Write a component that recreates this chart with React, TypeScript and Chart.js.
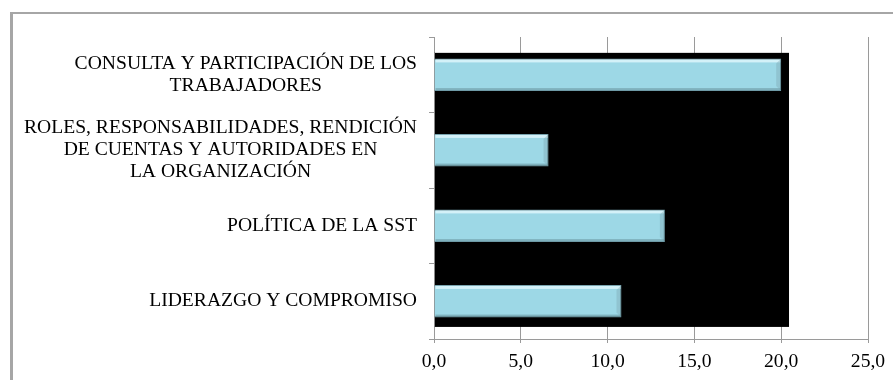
import { useEffect, useRef } from 'react';
import { Chart, registerables } from 'chart.js';

Chart.register(...registerables);

const CATEGORIES: string[][] = [
  ['CONSULTA Y PARTICIPACIÓN DE LOS', 'TRABAJADORES'],
  ['ROLES, RESPONSABILIDADES, RENDICIÓN', 'DE CUENTAS Y AUTORIDADES EN', 'LA ORGANIZACIÓN'],
  ['POLÍTICA DE LA SST'],
  ['LIDERAZGO Y COMPROMISO'],
];
const VALUES: number[] = [20.0, 6.6, 13.3, 10.8];
const X_MIN = 0;
const X_MAX = 25;
const X_STEP = 5;

const FONT = '"Liberation Serif", "Times New Roman", serif';
const FONT_SIZE = 19.6;

// decorative black backdrop extent (in data units of the scales)
const BACKDROP_X_END = 20.45;
const BACKDROP_Y_START = -0.29;
const BACKDROP_Y_END = 3.34;

export default function App() {
  const ref = useRef<HTMLCanvasElement>(null);

  useEffect(() => {
    const canvas = ref.current!;

    const framePlugin = {
      id: 'frame',
      beforeDraw(chart: any) {
        const ctx = chart.ctx;
        ctx.save();
        ctx.fillStyle = '#ffffff';
        ctx.fillRect(0, 0, chart.width, chart.height);
        ctx.fillStyle = '#a6a6a6';
        ctx.fillRect(10, 12, 3, chart.height);
        ctx.fillRect(10, 12, chart.width, 2);
        ctx.restore();
      },
    };

    const backdropPlugin = {
      id: 'backdrop',
      beforeDatasetsDraw(chart: any) {
        const { ctx } = chart;
        const x = chart.scales.x;
        const y = chart.scales.y;
        const x0 = x.getPixelForValue(0);
        const x1 = x.getPixelForValue(BACKDROP_X_END);
        const y0 = y.getPixelForValue(BACKDROP_Y_START);
        const y1 = y.getPixelForValue(BACKDROP_Y_END);
        ctx.save();
        ctx.fillStyle = '#000000';
        ctx.fillRect(x0, y0, x1 - x0, y1 - y0);
        ctx.strokeStyle = '#8a8a8a';
        ctx.lineWidth = 1;
        ctx.beginPath();
        ctx.moveTo(x0 + 0.5, y0);
        ctx.lineTo(x0 + 0.5, y1);
        ctx.stroke();
        ctx.restore();
      },
    };

    const bevelPlugin = {
      id: 'bevel',
      afterDatasetsDraw(chart: any) {
        const { ctx } = chart;
        const meta = chart.getDatasetMeta(0);
        ctx.save();
        meta.data.forEach((bar: any) => {
          const { x, y, base, height } = bar.getProps(['x', 'y', 'base', 'height'], true);
          const top = y - height / 2;
          const bot = y + height / 2;
          const left = Math.min(base, x);
          const w = Math.abs(x - base);
          ctx.fillStyle = 'rgba(225,248,252,0.8)';
          ctx.fillRect(left + 1, top + 1, w - 2, 3);
          ctx.fillStyle = 'rgba(90,130,140,0.45)';
          ctx.fillRect(left + 1, bot - 3, w - 2, 2);
          ctx.fillStyle = 'rgba(120,160,170,0.35)';
          ctx.beginPath();
          ctx.moveTo(x - 1, top + 1);
          ctx.lineTo(x - 1, bot - 1);
          ctx.lineTo(x - 5, bot - 5);
          ctx.lineTo(x - 5, top + 5);
          ctx.closePath();
          ctx.fill();
        });
        ctx.restore();
      },
    };

    const labelPlugin = {
      id: 'catLabels',
      afterDraw(chart: any) {
        const { ctx, chartArea } = chart;
        const y = chart.scales.y;
        const right = chartArea.left - 17;
        const lineH = 22;
        ctx.save();
        ctx.font = `${FONT_SIZE}px ${FONT}`;
        ctx.fillStyle = '#000000';
        ctx.textAlign = 'center';
        ctx.textBaseline = 'middle';
        CATEGORIES.forEach((lines, i) => {
          const blockW = Math.max(...lines.map((l) => ctx.measureText(l).width));
          const cx = right - blockW / 2;
          const yc = y.getPixelForValue(i);
          const start = yc - ((lines.length - 1) * lineH) / 2;
          lines.forEach((l, j) => ctx.fillText(l, cx, start + j * lineH));
        });
        ctx.restore();
      },
    };

    const chart = new Chart(canvas, {
      type: 'bar',
      data: {
        labels: CATEGORIES as any,
        datasets: [
          {
            data: VALUES,
            backgroundColor: '#9DD8E6',
            borderColor: '#6F9CA8',
            borderWidth: 1,
            barPercentage: 0.433,
            categoryPercentage: 1,
          },
        ],
      },
      options: {
        indexAxis: 'y',
        responsive: false,
        animation: false,
        layout: { padding: { top: 37, right: 25, left: 0, bottom: 0 } },
        plugins: { legend: { display: false }, tooltip: { enabled: false } },
        scales: {
          x: {
            min: X_MIN,
            max: X_MAX,
            ticks: {
              stepSize: X_STEP,
              color: '#000000',
              font: { family: FONT, size: FONT_SIZE },
              padding: 7,
              callback: (v: any) => Number(v).toFixed(1).replace('.', ','),
            },
            grid: { color: '#9a9a9a', tickLength: 4 },
            border: { color: '#9a9a9a' },
            afterFit: (s: any) => {
              s.height = 41;
            },
          },
          y: {
            ticks: { display: false },
            grid: { drawOnChartArea: false, tickLength: 5, color: '#9a9a9a' },
            border: { color: '#9a9a9a' },
            afterFit: (s: any) => {
              s.width = 434;
            },
          },
        },
      } as any,
      plugins: [framePlugin, backdropPlugin, bevelPlugin, labelPlugin],
    });

    return () => chart.destroy();
  }, []);

  return (
    <div style={{ position: 'fixed', left: 0, top: 0, width: 893, height: 380 }}>
      <canvas ref={ref} width={893} height={380} style={{ display: 'block', width: 893, height: 380 }} />
    </div>
  );
}
